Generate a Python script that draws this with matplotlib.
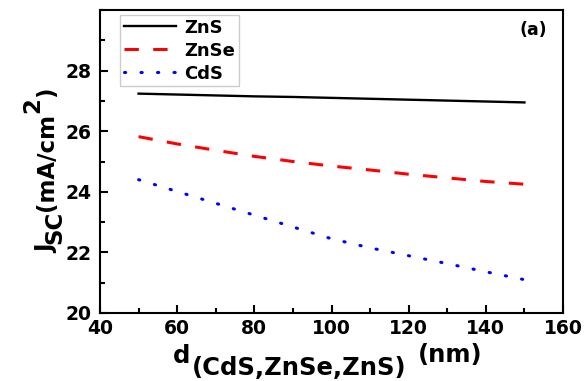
import matplotlib
matplotlib.use("Agg")
import matplotlib.pyplot as plt
from matplotlib.ticker import MultipleLocator

# --------------------------------------------------
# Data
# --------------------------------------------------
thickness = [50, 60, 70, 80, 90, 100, 110, 120, 130, 140, 150]
jsc_zns = [27.24, 27.21, 27.18, 27.15, 27.13, 27.10, 27.07, 27.04, 27.01, 26.98, 26.95]
jsc_znse = [25.82, 25.58, 25.37, 25.17, 25.00, 24.85, 24.72, 24.58, 24.46, 24.34, 24.25]
jsc_cds = [24.40, 24.01, 23.62, 23.23, 22.84, 22.45, 22.15, 21.89, 21.63, 21.36, 21.10]

labels = ["ZnS", "ZnSe", "CdS"]

# --------------------------------------------------
# Style
# --------------------------------------------------
plt.rcParams["font.family"] = ["DejaVu Sans"]
plt.rcParams["font.weight"] = "bold"

W, H = 585, 381
fig = plt.figure(figsize=(W / 100, H / 100), dpi=100)
ax = fig.add_axes([100 / W, 68 / H, 463 / W, 303 / H])

ax.plot(thickness, jsc_zns, color="black", lw=1.7, label=labels[0])
ax.plot(thickness, jsc_znse, color="red", lw=2.2, dashes=(4.7, 4.7), label=labels[1])
ax.plot(thickness, jsc_cds, color="blue", lw=2.2, dashes=(0.4, 5.0),
        dash_capstyle="round", label=labels[2])

ax.set_xlim(40, 160)
ax.set_ylim(20, 30)
ax.xaxis.set_major_locator(MultipleLocator(20))
ax.xaxis.set_minor_locator(MultipleLocator(10))
ax.yaxis.set_major_locator(MultipleLocator(2))
ax.yaxis.set_minor_locator(MultipleLocator(1))
ax.set_yticks([20, 22, 24, 26, 28])

for s in ax.spines.values():
    s.set_linewidth(1.5)

ax.tick_params(which="both", direction="in", width=1.5, labelsize=13.5)
ax.tick_params(which="major", length=6)
ax.tick_params(which="minor", length=3.5)
ax.tick_params(axis="x", pad=4)
ax.tick_params(axis="y", pad=6)

leg = ax.legend(loc="upper left", bbox_to_anchor=(20 / 463, 1 - 5 / 303),
                fontsize=13, handlelength=2.9, handletextpad=0.45,
                labelspacing=0.28, borderpad=0.2, borderaxespad=0,
                fancybox=False, framealpha=1)
leg.get_frame().set_edgecolor("#cccccc")
leg.get_frame().set_linewidth(1.0)

ax.text(0.965, 0.935, "(a)", transform=ax.transAxes, ha="right", va="center",
        fontsize=12.5)

# --------------------------------------------------
# Axis labels built from pieces (large sub/superscripts)
# --------------------------------------------------
# x label: d_(CdS,ZnSe,ZnS)^(nm)
xsize = 17.5
t_d = fig.text(173 / W, 1 - 363 / H, "d", fontsize=xsize, ha="left", va="baseline")
t_sub = ax.annotate("(CdS,ZnSe,ZnS)", xy=(1, 0), xycoords=t_d, xytext=(1, -8.5),
                    textcoords="offset points", fontsize=xsize, ha="left",
                    va="bottom", annotation_clip=False)
ax.annotate("(nm)", xy=(1, 0), xycoords=t_sub, xytext=(8, 9.5),
            textcoords="offset points", fontsize=xsize, ha="left",
            va="bottom", annotation_clip=False)

# y label: J_SC(mA/cm^2)
ysize = 16.5
t_j = fig.text(58 / W, 1 - 253 / H, "J", fontsize=ysize, rotation=90,
               ha="right", va="bottom")
t_sc = ax.annotate("SC", xy=(1, 1), xycoords=t_j, xytext=(6, 0),
                   textcoords="offset points", fontsize=ysize, rotation=90,
                   ha="right", va="bottom", annotation_clip=False)
t_unit = ax.annotate("(mA/cm", xy=(1, 1), xycoords=t_sc, xytext=(-6, 0),
                     textcoords="offset points", fontsize=ysize, rotation=90,
                     ha="right", va="bottom", annotation_clip=False)
t_sq = ax.annotate("2", xy=(1, 1), xycoords=t_unit, xytext=(-10, 0),
                   textcoords="offset points", fontsize=ysize, rotation=90,
                   ha="right", va="bottom", annotation_clip=False)
ax.annotate(")", xy=(1, 1), xycoords=t_sq, xytext=(10, 0),
            textcoords="offset points", fontsize=ysize, rotation=90,
            ha="right", va="bottom", annotation_clip=False)

fig.savefig("out.png", dpi=100)
